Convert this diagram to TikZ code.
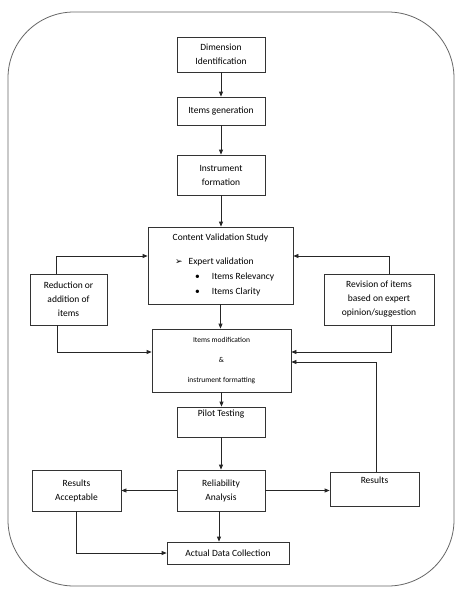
\documentclass[tikz,border=0pt]{standalone}
\usepackage{fontspec}
\setmainfont{Carlito}
\newfontfamily\symfont{DejaVu Sans}
\usetikzlibrary{arrows.meta}
\begin{document}
\begin{tikzpicture}[x=1pt,y=-1pt,
  box/.style={draw=black!80, line width=0.75pt, align=center, inner sep=0pt,
    font=\fontsize{9.5}{14}\selectfont},
  arr/.style={draw=black!85, line width=0.75pt, -{Triangle[length=5pt,width=4pt]}},
  txt/.style={inner sep=0pt, font=\fontsize{9.5}{14}\selectfont}]
\useasboundingbox (0,0) rectangle (467,592);
\draw[black!60, line width=0.8pt, rounded corners=66pt] (8,12) rectangle (454,586);

\node[box, minimum width=88pt, minimum height=35pt] (dim) at (221,54.5) {Dimension\\Identification};
\node[box, minimum width=88pt, minimum height=28pt] (gen) at (221,111) {Items generation};
\node[box, minimum width=88pt, minimum height=40pt] (ins) at (221,175) {Instrument\\formation};
\node[box, minimum width=145pt, minimum height=77pt] (con) at (220.5,265.5) {};
\node[txt] (cont) at (220.5,238) {Content Validation Study};
\node[txt, anchor=west] (bul1) at (175,262) {{\symfont\fontsize{9}{9}\selectfont ➢}\hspace{6pt}Expert validation};
\node[txt, anchor=west] (bul2) at (195,277) {•\hspace{12pt}Items Relevancy};
\node[txt, anchor=west] (bul3) at (195,292) {•\hspace{12pt}Items Clarity};
\node[box, minimum width=77pt, minimum height=51pt] (red) at (68.5,299.5) {Reduction or\\addition of\\items};
\node[box, minimum width=110pt, minimum height=51pt] (rev) at (379,299.5) {Revision of items\\based on expert\\opinion/suggestion};
\node[box, minimum width=139pt, minimum height=63pt, font=\fontsize{7.5}{9}\selectfont] (mod) at (221.5,360.5)
  {Items modification\\[11pt]\&\\[11pt]instrument formatting};
\node[box, minimum width=88pt, minimum height=30pt] (pil) at (221,422) {Pilot Testing\\[4pt]};
\node[box, minimum width=88pt, minimum height=41pt] (rel) at (221,490.5) {Reliability\\Analysis};
\node[box, minimum width=89pt, minimum height=41pt] (acc) at (76.5,490.5) {Results\\Acceptable};
\node[box, minimum width=89pt, minimum height=34pt] (res) at (374.5,489) {Results\\[4pt]};
\node[box, minimum width=122pt, minimum height=22pt] (act) at (228,553) {Actual Data Collection};

\draw[arr] (dim) -- (gen);
\draw[arr] (gen) -- (ins);
\draw[arr] (ins) -- (ins.south |- con.north);
\draw[arr] (con.south) -- (con.south |- mod.north);
\draw[arr] ([xshift=-12pt]red.north) |- ([yshift=9.5pt]con.west);
\draw[arr] ([xshift=-11pt]red.south) |- ([yshift=8.5pt]mod.west);
\draw[arr] ([xshift=10pt]rev.north) |- ([yshift=9.5pt]con.east);
\draw[arr] ([xshift=12pt]rev.south) |- ([yshift=8.5pt]mod.east);
\draw[arr] ([xshift=1.5pt]res.north) |- ([yshift=-1.5pt]mod.east);
\draw[arr] (mod.south) -- (mod.south |- pil.north);
\draw[arr] (pil) -- (rel);
\draw[arr] (rel.west) -- (acc.east);
\draw[arr] (rel.east) -- (rel.east -| res.west);
\draw[arr] ([xshift=-2pt]rel.south) -- ([xshift=-2pt]rel.south |- act.north);
\draw[arr] (acc.south) |- (act.west);
\end{tikzpicture}
\end{document}
